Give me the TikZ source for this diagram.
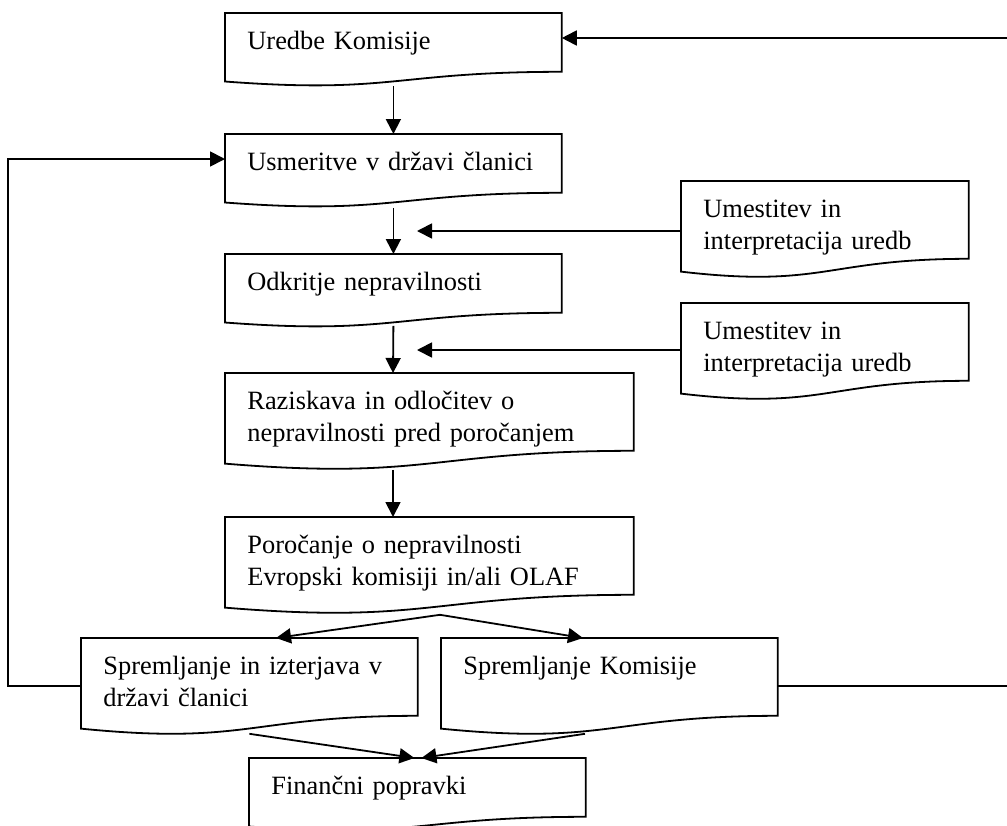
\documentclass[tikz,border=0pt]{standalone}
\usepackage{fontspec}
\setmainfont{Liberation Serif}
\usetikzlibrary{arrows.meta,calc}
\tikzset{
  doc/.style={anchor=north west, inner xsep=11pt, inner ysep=0pt, text width=146pt, text height=18pt, text depth=11pt, align=left},
  tall/.style={text depth=20.5pt},
  wide/.style={text width=182pt},
  side/.style={text width=121.5pt},
  frame/.style={draw=black, line width=0.9pt},
  arrow/.style={-{Triangle[length=7.5pt,width=7.5pt]}, line width=0.9pt}
}

\begin{document}
\begin{tikzpicture}[x=0.5pt, y=-0.5pt, font=\fontsize{13.2}{15.8}\selectfont]
  \useasboundingbox (0,0) rectangle (1007,825);

  \node[doc] (uredbe) at (225,13) {Uredbe Komisije};
  \node[doc] (usmeritve) at (225,134) {Usmeritve v državi članici};
  \node[doc] (odkritje) at (225,254) {Odkritje nepravilnosti};
  \node[doc, wide, tall] (raziskava) at (225,373) {Raziskava in odločitev o\\nepravilnosti pred poročanjem};
  \node[doc, wide, tall] (porocanje) at (225,517) {Poročanje o nepravilnosti\\Evropski komisiji in/ali OLAF};
  \node[doc, tall] (spremljanje) at (81,638) {Spremljanje in izterjava v\\državi članici};
  \node[doc, tall] (komisija) at (441,638) {Spremljanje Komisije};
  \node[doc] (popravki) at (249,758) {Finančni popravki};

  \node[doc, side, tall] (umestitevA) at (681,181) {Umestitev in\\interpretacija uredb};
  \node[doc, side, tall] (umestitevB) at (681,303) {Umestitev in\\interpretacija uredb};

  % document outlines with wavy bottom
  \foreach \n in {uredbe,usmeritve,odkritje,raziskava,porocanje,spremljanje,komisija,popravki,umestitevA,umestitevB}
    \draw[frame] (\n.north west) -- (\n.north east) -- (\n.south east)
      .. controls (\n.south) and ($(\n.south)!-0.38!(\n.north)$) .. ($(\n.south west)!-0.165!(\n.north west)$) -- cycle;

  \coordinate (loopR) at (1009,686);
  \coordinate (loopRtop) at (1009,38);
  \coordinate (loopL) at (8,686);
  \coordinate (loopLtop) at (8,159);
  \coordinate (inA) at (417,231);
  \coordinate (inB) at (417,350);

  % main flow
  \draw[arrow] ([yshift=-7pt]uredbe.south) -- (usmeritve.north);
  \draw[arrow] ([yshift=-7.5pt]usmeritve.south) -- (odkritje.north);
  \draw[arrow] ([yshift=-6.5pt]odkritje.south) -- ([xshift=84pt]raziskava.north west);
  \draw[arrow] ([xshift=84pt,yshift=-9.5pt]raziskava.south west) -- ([xshift=84pt]porocanje.north west);
  \draw[arrow] ([xshift=107.5pt,yshift=-10pt]porocanje.south west) -- ([xshift=97.5pt]spremljanje.north west);
  \draw[arrow] ([xshift=107.5pt,yshift=-10pt]porocanje.south west) -- ([xshift=71pt]komisija.north west);
  \draw[arrow] ([yshift=-9pt]spremljanje.south) -- ([xshift=-1.5pt]popravki.north);
  \draw[arrow] ([xshift=72pt,yshift=-9pt]komisija.south west) -- ([xshift=2pt]popravki.north);

  % side inputs
  \draw[arrow] (umestitevA.west |- inA) -- (inA);
  \draw[arrow] (umestitevB.west |- inB) -- (inB);

  % feedback loops
  \draw[arrow] (spremljanje.west |- loopL) -- (loopL) -- (loopLtop) -- (usmeritve.west |- loopLtop);
  \draw[arrow] (komisija.east |- loopR) -- (loopR) -- (loopRtop) -- (uredbe.east |- loopRtop);
\end{tikzpicture}
\end{document}
